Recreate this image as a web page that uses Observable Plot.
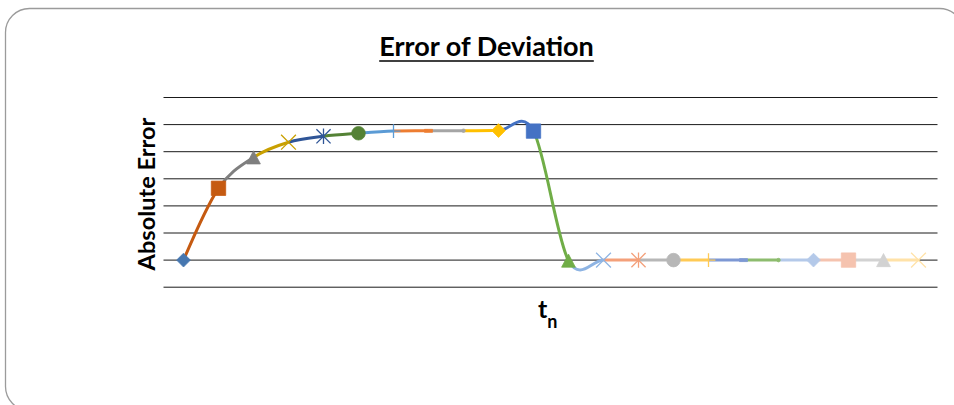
<!DOCTYPE html>
<html>
<head>
<meta charset="utf-8">
<script src="https://cdn.jsdelivr.net/npm/d3@7"></script>
<script src="https://cdn.jsdelivr.net/npm/@observablehq/plot@0.6"></script>
<style>
  html, body { margin: 0; padding: 0; background: #fff; }
  #chart svg { display: block; overflow: hidden; background: #fff; }
</style>
</head>
<body>
<div id="chart"></div>
<script>
// ---- data ----
const TITLE = "Error of Deviation";
const Y_LABEL = "Absolute Error";
const X_LABEL = "t";
const X_SUB = "n";

const STEPS = [1, 2, 3, 4, 5, 6, 7, 8, 9, 10, 11, 12, 13, 14, 15, 16, 17, 18, 19, 20, 21, 22];
const ERROR = [1.0, 3.65, 4.79, 5.35, 5.57, 5.68, 5.76, 5.77, 5.775, 5.78, 5.76, 0.98,
               1.0, 1.0, 1.0, 1.0, 1.0, 1.0, 1.0, 1.0, 1.0, 1.0];
const GRID = [0, 1, 2, 3, 4, 5, 6, 7];

// colour of each point's marker (and of the segment arriving at it)
const COLORS = ["#4677B0", "#C55A11", "#7F7F7F", "#C9A000", "#2F5597", "#548235",
                "#5B9BD5", "#ED7D31", "#A5A5A5", "#FFC000", "#4472C4", "#70AD47",
                "#8EB4E3", "#F4A07A", "#B7B7B7", "#FFCA55", "#7D98D4", "#8DBC6E",
                "#B4C9E9", "#F5C3AF", "#D2D2D2", "#FFE2A8"];
const MARKERS = ["diamond", "square", "triangle", "x", "star", "circle", "plus", "dash", "dot",
                 "diamond", "square", "triangle", "x", "star", "circle", "plus", "dash", "dot",
                 "diamond", "square", "triangle", "x"];

// ---- styling ----
const FONT = "Lato, 'Open Sans', sans-serif";
const rad = s => Math.sqrt(s / Math.PI);
const SYMBOLS = {
  diamond: {draw(c, s) { const r = rad(s); c.moveTo(0, -r); c.lineTo(r, 0); c.lineTo(0, r); c.lineTo(-r, 0); c.closePath(); }},
  square: {draw(c, s) { const r = rad(s); c.moveTo(-r, -r); c.lineTo(r, -r); c.lineTo(r, r); c.lineTo(-r, r); c.closePath(); }},
  triangle: {draw(c, s) { const r = rad(s); c.moveTo(0, -r * 0.95); c.lineTo(r, r * 0.95); c.lineTo(-r, r * 0.95); c.closePath(); }},
  x: {draw(c, s) { const r = rad(s); c.moveTo(-r, -r); c.lineTo(r, r); c.moveTo(-r, r); c.lineTo(r, -r); }},
  star: {draw(c, s) { const r = rad(s), a = r * 0.92; c.moveTo(-a, -a); c.lineTo(a, a); c.moveTo(-a, a); c.lineTo(a, -a); c.moveTo(0, -r); c.lineTo(0, r); }},
  circle: {draw(c, s) { const r = rad(s); c.moveTo(r, 0); c.arc(0, 0, r, 0, 2 * Math.PI); c.closePath(); }},
  plus: {draw(c, s) { const r = rad(s); c.moveTo(0, -r); c.lineTo(0, r); c.moveTo(-r, 0); c.lineTo(r, 0); }},
  dash: {draw(c, s) { const r = rad(s); c.moveTo(-r, -1.5); c.lineTo(r, -1.5); c.lineTo(r, 1.5); c.lineTo(-r, 1.5); c.closePath(); }},
  dot: {draw(c, s) { const r = rad(s); c.moveTo(r, 0); c.arc(0, 0, r, 0, 2 * Math.PI); c.closePath(); }}
};
const SIZE = {diamond: 6.9, square: 7.2, triangle: 6.9, x: 7.4, star: 7.7, circle: 6.8, plus: 6.9, dash: 4, dot: 1.8};
const FILLED = {diamond: true, square: true, triangle: true, circle: true, dash: true, dot: true};

const points = STEPS.map((t, i) => ({t, v: ERROR[i], color: COLORS[i], marker: MARKERS[i]}));

// smoothed (uniform Catmull-Rom) curve through all points, emitting only segment k
function segmentCurve(k) {
  return function (context) {
    let n = 0, cx = 0, cy = 0;
    const proxy = {
      moveTo(x, y) { cx = x; cy = y; },
      lineTo(x, y) { if (n === k) { context.moveTo(cx, cy); context.lineTo(x, y); } n++; cx = x; cy = y; },
      bezierCurveTo(a, b, c, d, x, y) { if (n === k) { context.moveTo(cx, cy); context.bezierCurveTo(a, b, c, d, x, y); } n++; cx = x; cy = y; },
      closePath() {}
    };
    return d3.curveCardinal.tension(0)(proxy);
  };
}

const lineMarks = [];
for (let k = 0; k < STEPS.length - 1; k++) {
  lineMarks.push(Plot.line(points, {
    x: "t", y: "v", curve: segmentCurve(k),
    stroke: COLORS[k + 1], strokeWidth: 3, strokeLinecap: "butt"
  }));
}

const markerMarks = Object.keys(SYMBOLS).map(m => {
  const sub = points.filter(d => d.marker === m);
  const filled = FILLED[m];
  return Plot.dot(sub, {
    x: "t", y: "v", symbol: SYMBOLS[m], r: SIZE[m],
    fill: filled ? "color" : "none",
    stroke: "color",
    strokeWidth: filled ? 0.75 : 1.3
  });
});

const chart = Plot.plot({
  width: 954,
  height: 405,
  marginLeft: 163.5,
  marginRight: 16.5,
  marginTop: 97,
  marginBottom: 118.3,
  x: {type: "point", domain: STEPS, padding: 0.5, axis: null},
  y: {domain: [0, 7], axis: null},
  color: {type: "identity"},
  marks: [
    Plot.ruleY(GRID, {stroke: "#1a1a1a", strokeWidth: 1}),
    ...lineMarks,
    ...markerMarks
  ]
});

document.getElementById("chart").appendChild(chart);

const svg = d3.select(chart);
svg.insert("rect", ":first-child")
  .attr("x", 5.5).attr("y", 8.5).attr("width", 958).attr("height", 402)
  .attr("rx", 24).attr("ry", 24)
  .attr("fill", "none").attr("stroke", "#9b9b9b").attr("stroke-width", 1.3);

const title = svg.append("text")
  .attr("x", 486.5).attr("y", 56)
  .style("font-family", FONT).style("font-size", "27px").style("font-weight", "700")
  .attr("text-anchor", "middle").attr("fill", "#000")
  .text(TITLE);
const bb = title.node().getBBox();
svg.append("line")
  .attr("x1", bb.x).attr("x2", bb.x + bb.width)
  .attr("y1", 61).attr("y2", 61)
  .attr("stroke", "#000").attr("stroke-width", 1.6);

svg.append("text")
  .attr("transform", "translate(154.5,194) rotate(-90)")
  .style("font-family", FONT).style("font-size", "23.6px").style("font-weight", "700")
  .attr("text-anchor", "middle").attr("fill", "#000")
  .text(Y_LABEL);

const xt = svg.append("text")
  .attr("x", 538).attr("y", 318)
  .style("font-family", FONT).style("font-weight", "700")
  .attr("text-anchor", "start").attr("fill", "#000");
xt.append("tspan").style("font-size", "25px").text(X_LABEL);
xt.append("tspan").attr("dy", 10).style("font-size", "18px").text(X_SUB);
</script>
</body>
</html>
